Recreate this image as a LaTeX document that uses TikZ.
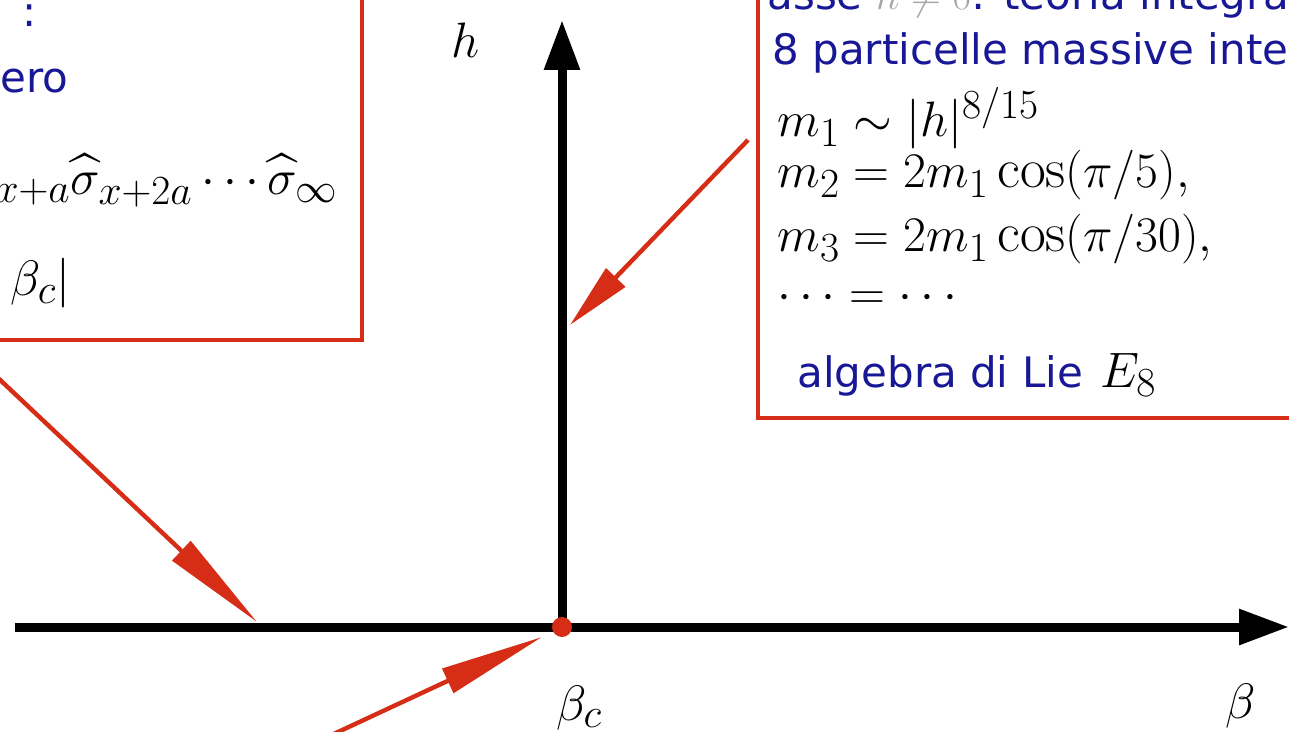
\documentclass[tikz,border=0pt]{standalone}
\usepackage{amsmath,amssymb}
\usepackage{fontspec}
\usepackage{xcolor}
\usepackage{tikz}
\usetikzlibrary{arrows.meta,positioning,calc}
\newfontfamily\slidefont{DejaVu Sans}
\definecolor{slidered}{RGB}{214,45,22}
\definecolor{slideblue}{RGB}{24,24,150}

\begin{document}
\begin{tikzpicture}[x=0.5pt,y=-0.5pt]
  % phase plane (beta,h) with the two comment panels of the slide
  \tikzset{txt/.style={font=\slidefont\fontsize{21}{25}\selectfont,text=slideblue,inner sep=0pt},
    eq/.style={font=\fontsize{28}{32}\selectfont,inner sep=0pt},
    lbl/.style={font=\fontsize{30}{36}\selectfont,inner sep=0pt},
    axis/.style={line width=4.5pt,-{Triangle[length=25pt,width=17pt]}},
    pointer/.style={color=slidered,line width=2.2pt,-{Triangle[length=#1,width=13pt]}},
    pointer/.default=52pt,
    panel/.style={draw=slidered,line width=2pt}}
  \useasboundingbox (0,0) rectangle (1289,732);
  \clip (0,0) rectangle (1289,732);
  \draw[panel] (-40,-40) rectangle (362,340);
  \draw[panel] (758,-40) rectangle (1340,418);
  % left panel
  \node[txt,anchor=base west] (colon) at (22,27) {:};
  \node[txt,anchor=base west] (ero) at (0,93) {ero};
  \node[eq,anchor=base east] (corr) at (338,195) {$\widehat{\sigma}_{x+a}\widehat{\sigma}_{x+2a}\cdots\widehat{\sigma}_{\infty}$};
  \node[eq,anchor=base west] (dist) at (10,296) {$\beta_c|$};
  % right panel
  \node[txt,anchor=base west] (asse) at (767,10) {asse \textcolor{black!35}{$h\neq 0$}: teoria integrabile};
  \node[txt,anchor=base west] (part) at (772,65) {8 particelle massive interagenti};
  \node[eq,anchor=base west] (m1) at (777,137) {$m_1\sim|h|^{8/15}$};
  \node[eq,anchor=base west] (m2) at (777,188) {$m_2=2m_1\cos(\pi/5),$};
  \node[eq,anchor=base west] (m3) at (777,252) {$m_3=2m_1\cos(\pi/30),$};
  \node[eq,anchor=base west] (mdots) at (777,310) {$\cdots=\cdots$};
  \node[txt,anchor=base west] (lie) at (797,387) {algebra di Lie};
  \node[eq,anchor=base west] (e8) at (1100,387) {$E_8$};
  % axes
  \coordinate (xstart) at (15,627);
  \coordinate (xend) at (1289,627);
  \coordinate (yend) at (562,20);
  \node[circle,inner sep=0pt,minimum size=0pt] (o) at (562,627) {};
  \draw[axis] (xstart) -- (xend);
  \draw[axis] (o.center) -- (yend);
  \node[circle,fill=slidered,inner sep=0pt,minimum size=10pt] (bc) at (o) {};
  \node[lbl,anchor=base] (hlbl) at (466,58) {$h$};
  \node[lbl,anchor=base] (blbl) at (1241,718) {$\beta$};
  \node[lbl,anchor=base] (bclbl) at (579,720) {$\beta_c$};
  % pointers
  \coordinate (a1s) at (748,140); \coordinate (a1e) at (570,325);
  \coordinate (a2s) at (-20,361); \coordinate (a2e) at (257,622);
  \coordinate (a3s) at (310,745); \coordinate (a3e) at (542,637);
  \draw[pointer=33pt] (a1s) -- (a1e);
  \draw[pointer] (a2s) -- (a2e);
  \draw[pointer] (a3s) -- (a3e);
\end{tikzpicture}
\end{document}
